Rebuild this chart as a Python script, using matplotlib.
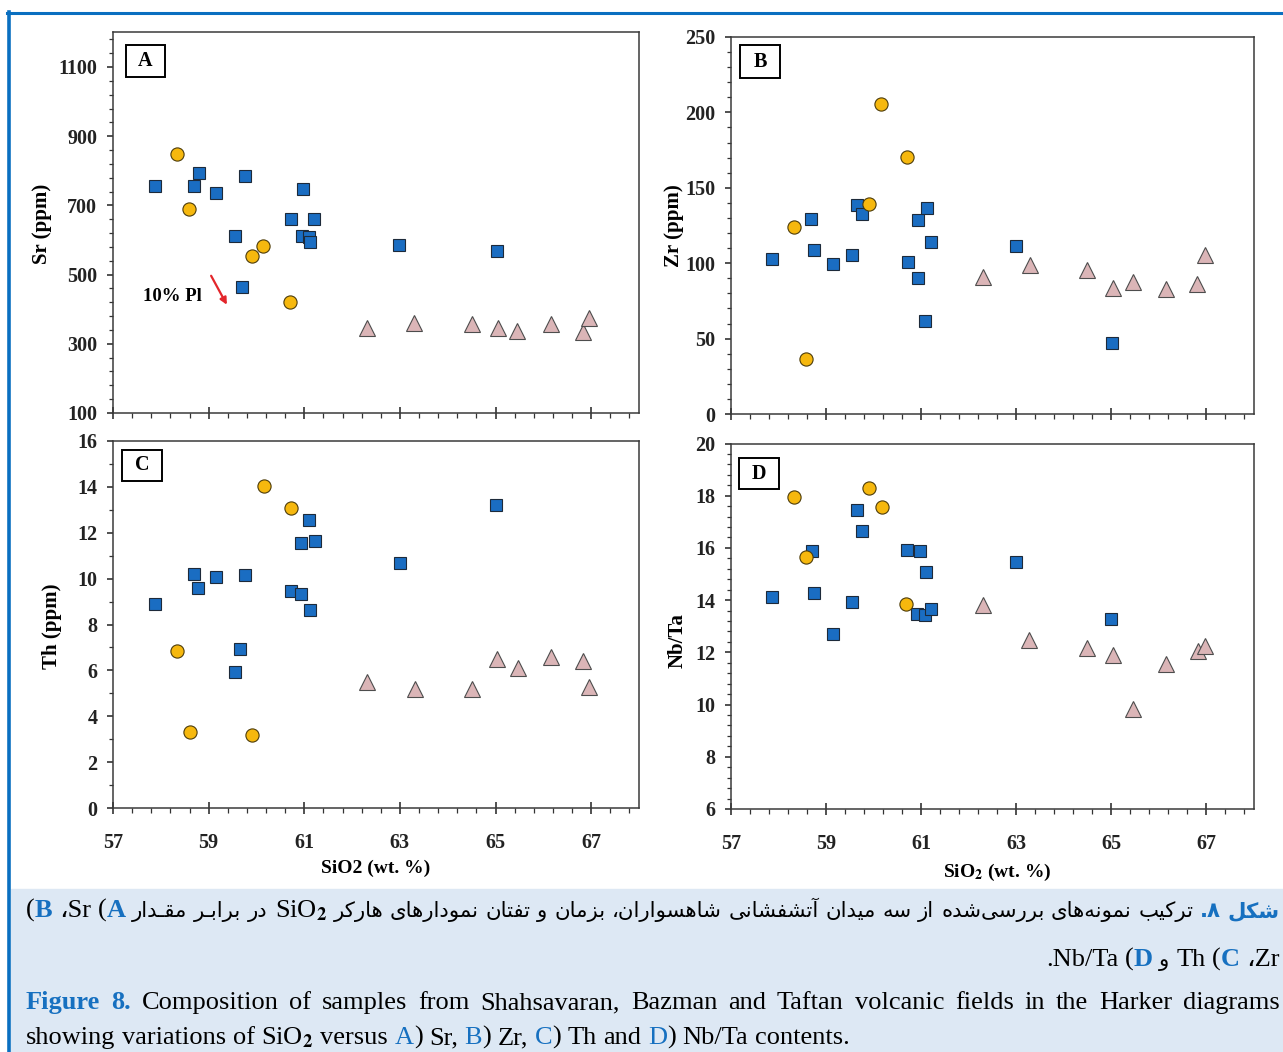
import matplotlib
matplotlib.use("Agg")
import matplotlib.pyplot as plt
import numpy as np
from matplotlib.patches import Rectangle
from matplotlib.lines import Line2D
from matplotlib.ticker import FixedLocator, MultipleLocator

plt.rcParams['font.family'] = ['Liberation Serif', 'DejaVu Sans']
plt.rcParams['font.weight'] = 'bold'
plt.rcParams['mathtext.fontset'] = 'stix'

# ---- data (SiO2 wt.% vs element) ----
# blue squares
a_sq_x = [57.88, 58.69, 58.79, 59.15, 59.76, 59.55, 59.69, 60.72, 60.97, 60.95, 61.10, 61.11, 61.21, 62.99, 65.03]
a_sq_y = [756, 756, 794, 735, 786, 612, 465, 660, 747, 611, 608, 595, 661, 585, 568]
b_sq_x = [57.86, 58.69, 58.76, 59.15, 59.55, 59.66, 59.77, 60.72, 60.93, 60.94, 61.12, 61.22, 61.09, 63.00, 65.01]
b_sq_y = [102.7, 129, 108.9, 99.4, 105.5, 138.9, 132.3, 100.7, 89.9, 128.5, 136.9, 114.2, 61.4, 111.5, 47.3]
c_sq_x = [57.88, 58.70, 58.77, 59.16, 59.76, 59.56, 59.66, 60.73, 60.94, 60.93, 61.10, 61.12, 61.22, 63.00, 65.01]
c_sq_y = [8.88, 10.22, 9.61, 10.07, 10.15, 5.92, 6.92, 9.45, 9.33, 11.57, 12.54, 8.62, 11.64, 10.67, 13.21]
d_sq_x = [57.87, 58.70, 58.76, 59.15, 59.55, 59.66, 59.77, 60.71, 60.97, 60.92, 61.10, 61.09, 61.21, 63.00, 65.00]
d_sq_y = [14.12, 15.88, 14.29, 12.72, 13.92, 17.47, 16.64, 15.93, 15.90, 13.48, 15.07, 13.42, 13.67, 15.48, 13.28]
# yellow circles
a_ci_x = [58.34, 58.59, 59.91, 60.14, 60.71]
a_ci_y = [850, 689, 555, 584, 420]
b_ci_x = [58.34, 58.59, 59.91, 60.15, 60.71]
b_ci_y = [124.1, 36.2, 139.3, 205.8, 170.5]
c_ci_x = [58.34, 58.60, 59.91, 60.15, 60.72]
c_ci_y = [6.83, 3.31, 3.17, 14.04, 13.07]
d_ci_x = [58.33, 58.59, 59.90, 60.17, 60.69]
d_ci_y = [17.96, 15.67, 18.29, 17.58, 13.84]
# pink triangles
a_tr_x = [62.31, 63.29, 64.50, 65.05, 65.45, 66.17, 66.83, 66.95]
a_tr_y = [345, 360, 357, 345, 337, 358, 333, 374]
b_tr_x = [62.31, 63.30, 64.50, 65.03, 65.46, 66.16, 66.80, 66.96]
b_tr_y = [91.0, 99.1, 95.4, 83.7, 87.7, 83.0, 85.9, 105.3]
c_tr_x = [62.31, 63.31, 64.51, 65.03, 65.46, 66.17, 66.82, 66.96]
c_tr_y = [5.51, 5.20, 5.20, 6.48, 6.09, 6.58, 6.41, 5.29]
d_tr_x = [62.31, 63.28, 64.49, 65.03, 65.46, 66.16, 66.82, 66.97]
d_tr_y = [13.81, 12.49, 12.16, 11.89, 9.82, 11.55, 12.06, 12.24]

x_ticks = [57, 59, 61, 63, 65, 67]

fa_head = "شکل ۸."
fa_body = "ترکیب نمونه‌های بررسی‌شده از سه میدان آتشفشانی شاهسواران، بزمان و تفتان نمودارهای هارکر"
fa_tail = "در برابـر مقـدار"
en_line1 = "Composition of samples from Shahsavaran, Bazman and Taftan volcanic fields in the Harker diagrams"

BLUE = '#1a6dc2'
YELLOW = '#f6b80e'
PINK = '#dbb5b7'
FRAME = '#0a6fc0'
CAP_BG = '#dde8f4'
CAP_BLUE = '#1670c0'

W, H = 1283, 1052
fig = plt.figure(figsize=(W / 100, H / 100), dpi=100)

fig.add_artist(Rectangle((11 / W, 0), 1 - 11 / W, (H - 889) / H, color=CAP_BG, zorder=0))
fig.add_artist(Line2D([7 / W, 1], [1 - 13 / H] * 2, color=FRAME, lw=2.2))
fig.add_artist(Line2D([9 / W] * 2, [1 - 12 / H, 0], color=FRAME, lw=2.6))


def setup(ax, ylim, yticks, yminor, letter, box, ylabel, ylab_xy, xlabel=None, xlab_xy=None):
    ax.set_xlim(57, 68)
    ax.set_ylim(*ylim)
    ax.set_xticks(x_ticks)
    ax.xaxis.set_minor_locator(FixedLocator(np.arange(57, 68.01, 0.4)))
    ax.set_yticks(yticks)
    ax.yaxis.set_minor_locator(yminor)
    ax.tick_params(axis='x', which='major', direction='inout', length=8.6, width=1.1,
                   pad=14, labelsize=14.5, colors='#222222')
    ax.tick_params(axis='x', which='minor', direction='out', length=3.6, width=0.9, colors='#333333')
    ax.tick_params(axis='y', which='major', direction='out', length=4.3, width=1.1,
                   pad=7, labelsize=14.5, colors='#222222')
    ax.tick_params(axis='y', which='minor', direction='out', length=2.9, width=0.9, colors='#333333')
    for sp in ax.spines.values():
        sp.set_color('#3a3a3a')
        sp.set_linewidth(1.1)
    if xlabel is None:
        ax.tick_params(axis='x', labelbottom=False)
    else:
        ax.set_xlabel(xlabel, fontsize=14, fontweight='bold')
        ax.xaxis.set_label_coords(*xlab_xy)
    ax.set_ylabel(ylabel, fontsize=15, fontweight='bold')
    ax.yaxis.set_label_coords(*ylab_xy)
    x0, x1, y0, y1 = box
    ax.add_patch(Rectangle((x0, y0), x1 - x0, y1 - y0, transform=ax.transAxes,
                           facecolor='white', edgecolor='black', lw=1.4, zorder=5))
    ax.text((x0 + x1) / 2, (y0 + y1) / 2, letter, transform=ax.transAxes, ha='center',
            va='center', fontsize=14.5, fontweight='bold', zorder=6)


def draw_points(ax, sq_x, sq_y, ci_x, ci_y, tr_x, tr_y):
    ax.plot(tr_x, tr_y, '^', ms=11, mfc=PINK, mec='#4d4d4d', mew=0.8, ls='none', zorder=3)
    ax.plot(sq_x, sq_y, 's', ms=9, mfc=BLUE, mec='#1d2a3a', mew=0.8, ls='none', zorder=3)
    ax.plot(ci_x, ci_y, 'o', ms=9.5, mfc=YELLOW, mec='#4d3c0a', mew=0.8, ls='none', zorder=4)


def axes_rect(left, right, top, bottom):
    return [left / W, 1 - bottom / H, (right - left) / W, (bottom - top) / H]


ax_a = fig.add_axes(axes_rect(113, 639, 32.4, 413))
ax_b = fig.add_axes(axes_rect(730.7, 1254, 37, 414))
ax_c = fig.add_axes(axes_rect(113, 639, 441, 808))
ax_d = fig.add_axes(axes_rect(730.7, 1254, 443.5, 809))

draw_points(ax_a, a_sq_x, a_sq_y, a_ci_x, a_ci_y, a_tr_x, a_tr_y)
draw_points(ax_b, b_sq_x, b_sq_y, b_ci_x, b_ci_y, b_tr_x, b_tr_y)
draw_points(ax_c, c_sq_x, c_sq_y, c_ci_x, c_ci_y, c_tr_x, c_tr_y)
draw_points(ax_d, d_sq_x, d_sq_y, d_ci_x, d_ci_y, d_tr_x, d_tr_y)

setup(ax_a, (100, 1200), np.arange(100, 1101, 200), FixedLocator(np.arange(100, 1201, 40)),
      'A', (0.024, 0.099, 0.882, 0.967), 'Sr (ppm)', (-0.116, 0.496))
setup(ax_b, (0, 250), np.arange(0, 251, 50), MultipleLocator(10),
      'B', (0.018, 0.094, 0.892, 0.978), 'Zr (ppm)', (-0.089, 0.5))
setup(ax_c, (0, 16), np.arange(0, 17, 2), MultipleLocator(1),
      'C', (0.018, 0.093, 0.891, 0.976), 'Th (ppm)', (-0.097, 0.496),
      'SiO2 (wt. %)', (0.5, -0.142))
setup(ax_d, (6, 20), np.arange(6, 21, 2), FixedLocator(np.arange(6, 20.01, 0.4)),
      'D', (0.0165, 0.0926, 0.8745, 0.959), 'Nb/Ta', (-0.082, 0.46),
      'SiO$_2$ (wt. %)', (0.509, -0.144))

ax_a.text(0.113, 0.307, '10% Pl', transform=ax_a.transAxes, ha='center', va='center',
          fontsize=13.5, fontweight='bold')
ax_a.annotate('', xy=(0.219, 0.278), xytext=(0.184, 0.367), xycoords='axes fraction',
              arrowprops=dict(arrowstyle='-|>', color='#e3262b', lw=1.6, mutation_scale=10))

# ---- caption ----
FORMS = {
    'ا': ('\uFE8D', '\uFE8E', None, None),
    'آ': ('\uFE81', '\uFE82', None, None),
    'ب': ('\uFE8F', '\uFE90', '\uFE91', '\uFE92'),
    'ت': ('\uFE95', '\uFE96', '\uFE97', '\uFE98'),
    'د': ('\uFEA9', '\uFEAA', None, None),
    'ر': ('\uFEAD', '\uFEAE', None, None),
    'ز': ('\uFEAF', '\uFEB0', None, None),
    'س': ('\uFEB1', '\uFEB2', '\uFEB3', '\uFEB4'),
    'ش': ('\uFEB5', '\uFEB6', '\uFEB7', '\uFEB8'),
    'ف': ('\uFED1', '\uFED2', '\uFED3', '\uFED4'),
    'ق': ('\uFED5', '\uFED6', '\uFED7', '\uFED8'),
    'ل': ('\uFEDD', '\uFEDE', '\uFEDF', '\uFEE0'),
    'م': ('\uFEE1', '\uFEE2', '\uFEE3', '\uFEE4'),
    'ن': ('\uFEE5', '\uFEE6', '\uFEE7', '\uFEE8'),
    'ه': ('\uFEE9', '\uFEEA', '\uFEEB', '\uFEEC'),
    'و': ('\uFEED', '\uFEEE', None, None),
    'ک': ('\uFB8E', '\uFB8F', '\uFB90', '\uFB91'),
    'ی': ('\uFBFC', '\uFBFD', '\uFBFE', '\uFBFF'),
    'ـ': ('\u0640', '\u0640', '\u0640', '\u0640'),
}


def shape(word):
    # contextual forms + right-to-left order, since matplotlib does no shaping
    out = []
    for i, ch in enumerate(word):
        f = FORMS.get(ch)
        if f is None:
            if ch != '\u200c':
                out.append(ch)
            continue
        prev = word[i - 1] if i > 0 else ''
        nxt = word[i + 1] if i < len(word) - 1 else ''
        jp = prev in FORMS and FORMS[prev][2] is not None
        jn = f[2] is not None and nxt in FORMS
        out.append(f[3] if jp and jn else f[1] if jp else f[2] if jn else f[0])
    return ''.join(reversed(out))


fig.canvas.draw()
renderer = fig.canvas.get_renderer()

EN = 19


def en(s, color='black', bold=False):
    return (s, dict(fontsize=EN, color=color, fontweight='bold' if bold else 'normal'))


def fa(s, size, color='black', bold=False):
    return (shape(s), dict(fontsize=size, color=color, family=['DejaVu Sans'],
                           fontweight='bold' if bold else 'normal'))


def width(s, props):
    t = fig.text(0, 0, s, **props)
    w = t.get_window_extent(renderer).width
    t.remove()
    return w


SPACE = width('a a', en('')[1]) - width('aa', en('')[1])


def layout(words, base_y, x0, x1, mode):
    widths = [[width(s, p) for s, p in wd] for wd in words]
    word_w = [sum(ws) for ws in widths]
    total = sum(word_w) + SPACE * (len(words) - 1)
    if mode == 'justify':
        gap = (x1 - x0 - sum(word_w)) / (len(words) - 1)
        x = x0
    elif mode == 'right':
        gap = SPACE
        x = x1 - total
    else:
        gap = SPACE
        x = x0
    for wd, ws in zip(words, widths):
        for (s, p), w in zip(wd, ws):
            fig.text(x / W, 1 - base_y / H, s, ha='left', va='baseline', zorder=3, **p)
            x += w
        x += gap
    return total


def fa_line1(size):
    words = [[en('('), en('B', CAP_BLUE, True)], [en('،Sr')], [en('('), en('A', CAP_BLUE, True)]]
    words += [[fa(w, size)] for w in reversed(fa_tail.split())]
    words += [[en('SiO$_2$')]]
    words += [[fa(w, size)] for w in reversed(fa_body.split())]
    words += [[fa(w, size, CAP_BLUE, True)] for w in reversed(fa_head.split())]
    return words


fa_size = 16.5
target = 1280 - 26
for _ in range(6):
    words = fa_line1(fa_size)
    nat = sum(sum(width(s, p) for s, p in wd) for wd in words) + SPACE * (len(words) - 1)
    if nat <= target:
        break
    fa_size *= target / nat * 0.995

layout(fa_line1(fa_size), 917, 26, 1280, 'justify')
layout([[en('.Nb/Ta')], [en('('), en('D', CAP_BLUE, True)], [fa('و', fa_size)],
        [en('Th')], [en('('), en('C', CAP_BLUE, True)], [en('،Zr')]],
       966, 26, 1280, 'right')

en_words = [[en('Figure', CAP_BLUE, True)], [en('8.', CAP_BLUE, True)]]
en_words += [[en(w)] for w in en_line1.split()]
layout(en_words, 1009, 26, 1280, 'justify')

layout([[en('showing')], [en('variations')], [en('of')], [en('SiO$_2$')], [en('versus')],
        [en('A', CAP_BLUE), en(')')], [en('Sr,')], [en('B', CAP_BLUE), en(')')], [en('Zr,')],
        [en('C', CAP_BLUE), en(')')], [en('Th')], [en('and')], [en('D', CAP_BLUE), en(')')],
        [en('Nb/Ta')], [en('contents.')]],
       1044, 26, 1280, 'left')

fig.savefig('out.png', dpi=100)
